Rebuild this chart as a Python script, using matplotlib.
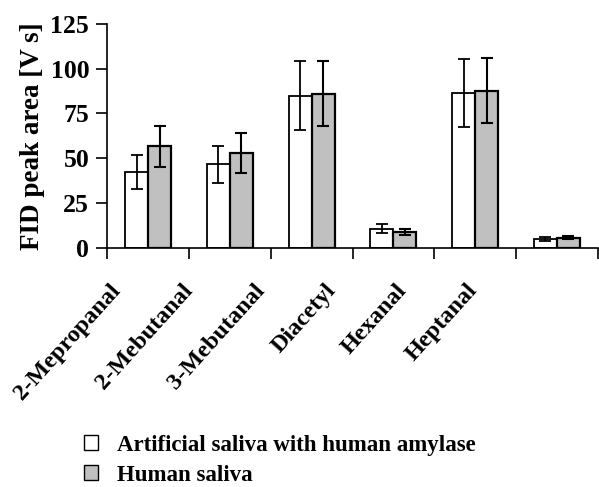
import numpy as np
import matplotlib
matplotlib.use("Agg")
import matplotlib.pyplot as plt
from matplotlib.patches import Patch

plt.rcParams['font.family'] = ['Liberation Serif', 'DejaVu Serif']
plt.rcParams['font.weight'] = 'bold'

compounds = ["2-Mepropanal", "2-Mebutanal", "3-Mebutanal", "Diacetyl", "Hexanal", "Heptanal"]
artificial = [42.4, 46.7, 85.0, 10.8, 86.3, 5.0]
artificial_err = [9.5, 10.3, 19.0, 2.3, 19.0, 1.0]
human = [56.7, 53.0, 86.0, 8.7, 87.8, 5.7]
human_err = [11.5, 11.0, 18.0, 1.7, 18.0, 1.0]

# where the rotated labels end (data units), they drift a bit left of the bars
label_pos = [-0.47, 0.41, 1.29, 2.16, 3.03, 3.89]

fig = plt.figure(figsize=(5.99, 4.87), dpi=100)
ax = fig.add_axes([0.179, 0.491, 0.819, 0.46])

x = np.arange(len(compounds))
w = 0.28
ax.bar(x - w/2, artificial, w, color="white", edgecolor="black", linewidth=1.3,
       yerr=artificial_err, capsize=4, error_kw=dict(elinewidth=1.3, capthick=1.3))
ax.bar(x + w/2, human, w, color="#c0c0c0", edgecolor="black", linewidth=1.6,
       yerr=human_err, capsize=4, error_kw=dict(elinewidth=1.5, capthick=1.5))

ax.set_xlim(-0.5, len(compounds) - 0.5)
ax.set_ylim(0, 125)
ax.set_yticks([0, 25, 50, 75, 100, 125])
ax.tick_params(axis='y', labelsize=18.5, length=8, width=1.2, direction='out', pad=5)
ax.set_ylabel("FID peak area [V s]", fontsize=19.5, fontweight='bold', labelpad=4)

ax.set_xticks(np.arange(len(compounds) + 1) - 0.5, minor=True)
ax.tick_params(axis='x', which='minor', length=8, width=1.2, direction='out')
ax.set_xticks(label_pos)
ax.set_xticklabels(compounds, rotation=48, ha='right', va='top',
                   rotation_mode='anchor', fontsize=17.5, fontweight='bold')
ax.tick_params(axis='x', which='major', length=0, pad=23)

for s in ['top', 'right']:
    ax.spines[s].set_visible(False)
for s in ['left', 'bottom']:
    ax.spines[s].set_linewidth(1.2)

handles = [Patch(facecolor="white", edgecolor="black", linewidth=1),
           Patch(facecolor="#c0c0c0", edgecolor="black", linewidth=1)]
fig.legend(handles, ["Artificial saliva with human amylase", "Human saliva"],
           loc='lower left', bbox_to_anchor=(0.105, -0.04), frameon=False,
           prop=dict(size=16.5, weight='bold'), handlelength=0.65, handleheight=0.65,
           handletextpad=0.8, labelspacing=0.4)

fig.savefig("out.png", dpi=100)
